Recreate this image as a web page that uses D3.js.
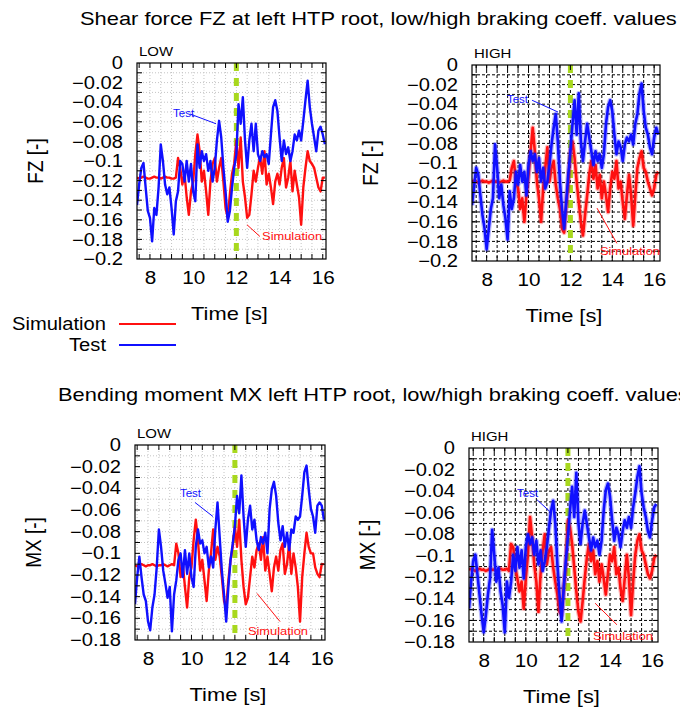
<!DOCTYPE html>
<html><head><meta charset="utf-8">
<script src="https://cdn.jsdelivr.net/npm/d3@7"></script>
<style>
body{margin:0;background:#fff}
svg{display:block}
text{font-family:"Liberation Sans",Arial,sans-serif;fill:#000}
</style>
</head><body>
<svg id="chart" width="680" height="714"></svg>
<script>
// Sampling instants (s)
const timeLow = [7.4,7.5,7.6,7.7,7.8,7.9,8.0,8.1,8.2,8.3,8.4,8.5,8.6,8.7,8.8,8.9,9.0,9.1,9.2,9.3,9.4,9.5,9.6,9.7,9.8,9.9,10.0,10.1,10.2,10.3,10.4,10.5,10.6,10.7,10.8,10.9,11.0,11.1,11.2,11.3,11.4,11.5,11.6,11.7,11.8,11.9,12.0,12.1,12.2,12.3,12.4,12.5,12.6,12.7,12.8,12.9,13.0,13.1,13.2,13.3,13.4,13.5,13.6,13.7,13.8,13.9,14.0,14.1,14.2,14.3,14.4,14.5,14.6,14.7,14.8,14.9,15.0,15.1,15.2,15.3,15.4,15.5,15.6,15.7,15.8,15.9,16.0,16.1];
const timeHigh = [7.3,7.4,7.5,7.6,7.7,7.8,7.9,8.0,8.1,8.2,8.3,8.4,8.5,8.6,8.7,8.8,8.9,9.0,9.1,9.2,9.3,9.4,9.5,9.6,9.7,9.8,9.9,10.0,10.1,10.2,10.3,10.4,10.5,10.6,10.7,10.8,10.9,11.0,11.1,11.2,11.3,11.4,11.5,11.6,11.7,11.8,11.9,12.0,12.1,12.2,12.3,12.4,12.5,12.6,12.7,12.8,12.9,13.0,13.1,13.2,13.3,13.4,13.5,13.6,13.7,13.8,13.9,14.0,14.1,14.2,14.3,14.4,14.5,14.6,14.7,14.8,14.9,15.0,15.1,15.2,15.3,15.4,15.5,15.6,15.7,15.8,15.9,16.0,16.1,16.2];

// Shear force FZ, low braking coefficient
const fzLowTest = [-0.145,-0.124,-0.107,-0.102,-0.127,-0.151,-0.158,-0.182,-0.148,-0.155,
 -0.127,-0.083,-0.100,-0.124,-0.134,-0.127,-0.148,-0.175,-0.141,-0.131,
 -0.100,-0.103,-0.121,-0.100,-0.121,-0.103,-0.131,-0.141,-0.083,-0.107,
 -0.090,-0.100,-0.093,-0.110,-0.100,-0.121,-0.107,-0.079,-0.059,-0.076,
 -0.107,-0.131,-0.162,-0.151,-0.127,-0.107,-0.093,-0.042,-0.062,-0.035,
 -0.079,-0.107,-0.079,-0.062,-0.090,-0.062,-0.093,-0.100,-0.090,-0.096,
 -0.093,-0.103,-0.073,-0.045,-0.038,-0.049,-0.076,-0.100,-0.079,-0.093,
 -0.086,-0.100,-0.090,-0.073,-0.079,-0.069,-0.079,-0.059,-0.038,-0.018,
 -0.045,-0.062,-0.076,-0.090,-0.069,-0.065,-0.073,-0.083];
const fzLowSim = [-0.117,-0.118,-0.117,-0.116,-0.117,-0.118,-0.118,-0.117,-0.116,-0.117,
 -0.117,-0.118,-0.117,-0.116,-0.117,-0.117,-0.118,-0.118,-0.117,
 -0.097,-0.107,-0.124,-0.113,-0.137,-0.155,-0.131,-0.121,-0.093,-0.073,
 -0.090,-0.121,-0.110,-0.131,-0.155,-0.121,-0.103,-0.097,-0.121,-0.107,
 -0.097,-0.121,-0.148,-0.158,-0.134,-0.113,-0.103,-0.079,-0.107,-0.076,
 -0.121,-0.137,-0.158,-0.155,-0.134,-0.110,-0.121,-0.107,-0.096,-0.113,
 -0.090,-0.124,-0.113,-0.127,-0.144,-0.121,-0.113,-0.124,-0.107,-0.097,
 -0.127,-0.117,-0.100,-0.131,-0.110,-0.124,-0.137,-0.165,-0.127,-0.107,
 -0.090,-0.100,-0.103,-0.107,-0.117,-0.127,-0.131,-0.117,-0.117];

// Shear force FZ, high braking coefficient
const fzHighTest = [-0.143,-0.124,-0.105,-0.112,-0.133,-0.153,-0.167,-0.188,-0.167,-0.147,
 -0.136,-0.081,-0.105,-0.136,-0.122,-0.143,-0.157,-0.178,-0.129,-0.147,
 -0.136,-0.109,-0.122,-0.102,-0.119,-0.109,-0.133,-0.102,-0.088,-0.098,
 -0.091,-0.109,-0.095,-0.119,-0.105,-0.126,-0.119,-0.102,-0.081,-0.064,
 -0.050,-0.078,-0.119,-0.147,-0.167,-0.140,-0.112,-0.088,-0.060,-0.036,
 -0.071,-0.029,-0.078,-0.098,-0.078,-0.060,-0.074,-0.088,-0.102,-0.088,
 -0.098,-0.091,-0.105,-0.091,-0.060,-0.043,-0.036,-0.047,-0.071,-0.091,
 -0.078,-0.084,-0.098,-0.081,-0.074,-0.078,-0.071,-0.081,-0.060,-0.050,
 -0.029,-0.019,-0.047,-0.064,-0.071,-0.084,-0.091,-0.074,-0.064,-0.071];
const fzHighSim = [-0.119,-0.118,-0.119,-0.120,-0.119,-0.118,-0.119,-0.119,-0.120,-0.119,
 -0.118,-0.119,-0.119,-0.120,-0.119,-0.118,-0.119,-0.119,-0.118,
 -0.105,-0.098,-0.119,-0.126,-0.147,-0.136,-0.160,-0.133,-0.112,-0.088,
 -0.064,-0.088,-0.119,-0.136,-0.160,-0.126,-0.105,-0.084,-0.119,-0.105,
 -0.098,-0.122,-0.136,-0.147,-0.167,-0.171,-0.143,-0.119,-0.088,-0.078,
 -0.095,-0.119,-0.140,-0.160,-0.174,-0.153,-0.133,-0.112,-0.098,-0.116,
 -0.102,-0.126,-0.112,-0.136,-0.119,-0.133,-0.150,-0.126,-0.109,-0.116,
 -0.098,-0.126,-0.119,-0.140,-0.157,-0.133,-0.112,-0.133,-0.164,-0.133,
 -0.105,-0.095,-0.088,-0.105,-0.109,-0.119,-0.126,-0.133,-0.126,-0.112,
 -0.109];

// Bending moment MX, low braking coefficient
const mxLowTest = [-0.147,-0.122,-0.103,-0.122,-0.138,-0.144,-0.163,-0.171,-0.150,-0.138,
 -0.113,-0.078,-0.094,-0.116,-0.128,-0.141,-0.131,-0.172,-0.138,-0.125,
 -0.106,-0.100,-0.122,-0.097,-0.119,-0.100,-0.122,-0.131,-0.094,-0.078,
 -0.091,-0.088,-0.100,-0.094,-0.113,-0.103,-0.113,-0.078,-0.053,-0.085,
 -0.116,-0.138,-0.163,-0.131,-0.106,-0.091,-0.075,-0.047,-0.063,-0.028,
 -0.066,-0.094,-0.069,-0.056,-0.078,-0.069,-0.088,-0.097,-0.085,-0.091,
 -0.081,-0.100,-0.059,-0.041,-0.034,-0.047,-0.072,-0.088,-0.075,-0.094,
 -0.081,-0.097,-0.078,-0.081,-0.066,-0.069,-0.066,-0.047,-0.025,-0.019,
 -0.041,-0.059,-0.066,-0.081,-0.056,-0.053,-0.056,-0.069];
const mxLowSim = [-0.111,-0.112,-0.111,-0.110,-0.111,-0.112,-0.111,-0.111,-0.110,-0.111,
 -0.112,-0.111,-0.111,-0.110,-0.111,-0.112,-0.111,-0.110,-0.111,
 -0.091,-0.100,-0.122,-0.110,-0.131,-0.150,-0.122,-0.113,-0.088,-0.069,
 -0.088,-0.116,-0.106,-0.125,-0.144,-0.116,-0.100,-0.078,-0.106,-0.094,
 -0.103,-0.122,-0.144,-0.150,-0.125,-0.106,-0.094,-0.075,-0.094,-0.069,
 -0.106,-0.131,-0.147,-0.141,-0.122,-0.103,-0.113,-0.097,-0.091,-0.106,
 -0.085,-0.116,-0.103,-0.119,-0.135,-0.113,-0.103,-0.116,-0.097,-0.091,
 -0.119,-0.110,-0.091,-0.119,-0.100,-0.113,-0.131,-0.163,-0.122,-0.100,
 -0.081,-0.094,-0.100,-0.100,-0.113,-0.119,-0.122,-0.110,-0.110];

// Bending moment MX, high braking coefficient
const mxHighTest = [-0.149,-0.124,-0.105,-0.099,-0.117,-0.136,-0.155,-0.171,-0.155,-0.136,
 -0.121,-0.076,-0.099,-0.124,-0.111,-0.133,-0.146,-0.171,-0.124,-0.139,
 -0.124,-0.099,-0.114,-0.092,-0.111,-0.095,-0.121,-0.092,-0.080,-0.089,
 -0.083,-0.099,-0.086,-0.108,-0.095,-0.114,-0.105,-0.092,-0.074,-0.058,
 -0.049,-0.070,-0.108,-0.136,-0.161,-0.130,-0.105,-0.083,-0.058,-0.036,
 -0.064,-0.023,-0.070,-0.089,-0.070,-0.058,-0.070,-0.083,-0.095,-0.083,
 -0.092,-0.086,-0.099,-0.086,-0.058,-0.039,-0.033,-0.045,-0.067,-0.086,
 -0.074,-0.080,-0.092,-0.077,-0.067,-0.074,-0.064,-0.074,-0.055,-0.042,
 -0.027,-0.017,-0.042,-0.055,-0.064,-0.077,-0.083,-0.067,-0.055,-0.052];
const mxHighSim = [-0.113,-0.112,-0.113,-0.114,-0.113,-0.112,-0.113,-0.113,-0.114,-0.113,
 -0.112,-0.113,-0.113,-0.114,-0.113,-0.112,-0.113,-0.113,-0.112,
 -0.114,-0.089,-0.092,-0.111,-0.121,-0.133,-0.124,-0.149,-0.121,-0.099,
 -0.064,-0.083,-0.108,-0.124,-0.152,-0.117,-0.095,-0.080,-0.108,-0.095,
 -0.092,-0.111,-0.124,-0.136,-0.152,-0.155,-0.130,-0.108,-0.067,-0.074,
 -0.089,-0.111,-0.133,-0.152,-0.161,-0.142,-0.121,-0.102,-0.089,-0.105,
 -0.095,-0.117,-0.105,-0.124,-0.108,-0.121,-0.136,-0.117,-0.099,-0.105,
 -0.092,-0.117,-0.111,-0.130,-0.142,-0.121,-0.099,-0.121,-0.155,-0.124,
 -0.099,-0.086,-0.080,-0.095,-0.099,-0.108,-0.117,-0.121,-0.114,-0.102,
 -0.099];

const xTickValues = [8, 10, 12, 14, 16];
const brakeTime = 12;
const seriesNames = ["Simulation", "Test"];
const seriesColors = {Simulation: "#ff1010", Test: "#1010ff"};
const chartTitles = [
  "Shear force FZ at left HTP root, low/high braking coeff. values",
  "Bending moment MX left HTP root, low/high braking coeff. values"
];

const panels = [
  {tag: "LOW", mode: "low", box: [137, 63, 326, 259], xDom: [7.4, 16.15], yDom: [-0.2, 0], yTitle: "FZ [-]",
   time: timeLow, test: fzLowTest, sim: fzLowSim,
   testNote: {text: [9.07, -0.055], from: [9.85, -0.052], to: [11.06, -0.062]},
   simNote: {text: [13.19, -0.181], from: [13.09, -0.177], to: [12.49, -0.165]}},
  {tag: "HIGH", mode: "high", box: [472, 65, 660, 261], xDom: [7.3, 16.28], yDom: [-0.2, 0], yTitle: "FZ [-]",
   time: timeHigh, test: fzHighTest, sim: fzHighSim,
   testNote: {text: [8.97, -0.039], from: [10.17, -0.036], to: [11.41, -0.048]},
   simNote: {text: [13.41, -0.194], from: [14.22, -0.182], to: [13.27, -0.146]}},
  {tag: "LOW", mode: "low", box: [135, 445, 325, 640], xDom: [7.4, 16.15], yDom: [-0.18, 0], yTitle: "MX [-]",
   time: timeLow, test: mxLowTest, sim: mxLowSim,
   testNote: {text: [9.47, -0.048], from: [10.16, -0.053], to: [10.99, -0.066]},
   simNote: {text: [12.6, -0.175], from: [14.08, -0.163], to: [13.02, -0.137]}},
  {tag: "HIGH", mode: "high", box: [469, 448, 658, 642], xDom: [7.3, 16.28], yDom: [-0.18, 0], yTitle: "MX [-]",
   time: timeHigh, test: mxHighTest, sim: mxHighSim,
   testNote: {text: [9.58, -0.045], from: [10.53, -0.048], to: [11.2, -0.060]},
   simNote: {text: [13.19, -0.178], from: [14.33, -0.164], to: [13.29, -0.144]}}
];

// Text in this figure is set slightly wide
const WIDE = 1.15;
function widen(sel, f = WIDE) {
  sel.each(function () {
    const w = this.getComputedTextLength();
    d3.select(this).attr("textLength", w * f).attr("lengthAdjust", "spacingAndGlyphs");
  });
  return sel;
}

const svg = d3.select("#chart");

// Titles
widen(svg.append("text").attr("x", 80).attr("y", 25).attr("font-size", 19).text(chartTitles[0]));
widen(svg.append("text").attr("x", 58).attr("y", 401).attr("font-size", 19).text(chartTitles[1]));

panels.forEach((p, i) => {
  const [x0, y0, x1, y1] = p.box;
  const x = d3.scaleLinear().domain(p.xDom).range([x0, x1]);
  const y = d3.scaleLinear().domain(p.yDom).range([y1, y0]);
  const g = svg.append("g");
  const id = "clip" + i;
  svg.append("clipPath").attr("id", id).append("rect")
    .attr("x", x0).attr("y", y0).attr("width", x1 - x0).attr("height", y1 - y0);

  const minorX = d3.range(Math.ceil(p.xDom[0] * 2) / 2, p.xDom[1] + 1e-9, 0.5);
  const nY = Math.round(-p.yDom[0] / 0.01);
  const minorY = d3.range(1, nY).map(k => -k * 0.01);

  // grid
  const gridColor = p.mode === "high" ? "#000" : "#c4c4c4";
  const gridDash = p.mode === "high" ? "3,2" : "1,2";
  g.selectAll(".gx").data(minorX).join("line")
    .attr("x1", d => x(d)).attr("x2", d => x(d)).attr("y1", y0).attr("y2", y1)
    .attr("stroke", gridColor).attr("stroke-width", 1).attr("stroke-dasharray", gridDash);
  g.selectAll(".gy").data(minorY).join("line")
    .attr("x1", x0).attr("x2", x1).attr("y1", d => y(d)).attr("y2", d => y(d))
    .attr("stroke", gridColor).attr("stroke-width", 1).attr("stroke-dasharray", gridDash);

  // braking instant marker
  g.append("line").attr("x1", x(brakeTime)).attr("x2", x(brakeTime)).attr("y1", y0).attr("y2", y1)
    .attr("stroke", "#a8d81e").attr("stroke-width", 5).attr("stroke-dasharray", "8,7");

  // series
  const line = d3.line().x((d, k) => x(p.time[k])).y(d => y(d));
  const plot = g.append("g").attr("clip-path", `url(#${id})`);
  const draw = (vals, color) => {
    if (p.mode === "high") {
      plot.append("path").datum(vals).attr("d", line).attr("fill", "none")
        .attr("stroke", color).attr("stroke-width", 5).attr("stroke-opacity", 0.3).attr("stroke-linejoin", "round");
      plot.append("path").datum(vals).attr("d", line).attr("fill", "none")
        .attr("stroke", color).attr("stroke-width", 2.6).attr("stroke-linejoin", "round");
    } else {
      plot.append("path").datum(vals).attr("d", line).attr("fill", "none")
        .attr("stroke", color).attr("stroke-width", 2.4).attr("stroke-linejoin", "round");
    }
  };
  draw(p.sim, seriesColors.Simulation);
  draw(p.test, seriesColors.Test);

  // tick marks inside the frame
  const tl = 5;
  g.selectAll(".tb").data(minorX).join("line")
    .attr("x1", d => x(d)).attr("x2", d => x(d)).attr("y1", y1).attr("y2", y1 - tl)
    .attr("stroke", "#000");
  g.selectAll(".tt").data(minorX).join("line")
    .attr("x1", d => x(d)).attr("x2", d => x(d)).attr("y1", y0).attr("y2", y0 + tl)
    .attr("stroke", "#000");
  g.selectAll(".tl").data(minorY).join("line")
    .attr("x1", x0).attr("x2", x0 + tl).attr("y1", d => y(d)).attr("y2", d => y(d))
    .attr("stroke", "#000");
  g.selectAll(".tr").data(minorY).join("line")
    .attr("x1", x1).attr("x2", x1 - tl).attr("y1", d => y(d)).attr("y2", d => y(d))
    .attr("stroke", "#000");

  // frame
  g.append("rect").attr("x", x0).attr("y", y0).attr("width", x1 - x0).attr("height", y1 - y0)
    .attr("fill", "none").attr("stroke", "#000").attr("stroke-width", 1.2);

  // axes labels
  const yTicks = d3.range(0, nY / 2 + 1).map(k => -k * 0.02);
  const yAxis = d3.axisLeft(y).tickValues(yTicks).tickSize(0).tickPadding(14)
    .tickFormat(d => d === 0 ? "0" : d3.format("")(+d.toFixed(2)));
  const ya = g.append("g").attr("transform", `translate(${x0},0)`).call(yAxis);
  ya.select(".domain").remove();
  widen(ya.selectAll("text").attr("font-size", 17.5).attr("font-family", "Liberation Sans, Arial, sans-serif").attr("fill", "#000"));

  const xAxis = d3.axisBottom(x).tickValues(xTickValues).tickSize(0).tickPadding(12).tickFormat(d3.format("d"));
  const xa = g.append("g").attr("transform", `translate(0,${y1})`).call(xAxis);
  xa.select(".domain").remove();
  widen(xa.selectAll("text").attr("font-size", 18).attr("font-family", "Liberation Sans, Arial, sans-serif").attr("fill", "#000"));

  widen(g.append("text").attr("x", (x0 + x1) / 2 - 2).attr("y", y1 + 61).attr("text-anchor", "middle")
    .attr("font-size", 19).text("Time [s]"));
  const ycx = x0 - 94, ycy = (y0 + y1) / 2;
  g.append("text").attr("transform", `translate(${ycx},${ycy}) rotate(-90) scale(1,${WIDE})`)
    .attr("text-anchor", "middle").attr("font-size", 19).text(p.yTitle);

  widen(g.append("text").attr("x", x0 + 2).attr("y", y0 - 7).attr("font-size", 13).text(p.tag));

  // in-plot annotations
  const note = (n, label, color, size) => {
    g.append("line").attr("x1", x(n.from[0])).attr("y1", y(n.from[1]))
      .attr("x2", x(n.to[0])).attr("y2", y(n.to[1])).attr("stroke", color).attr("stroke-width", 1);
    widen(g.append("text").attr("x", x(n.text[0])).attr("y", y(n.text[1])).attr("font-size", size)
      .style("fill", color).text(label));
  };
  note(p.testNote, "Test", seriesColors.Test, 10);
  note(p.simNote, "Simulation", seriesColors.Simulation, 11.2);
});

// legend
const legend = svg.append("g");
seriesNames.forEach((name, k) => {
  const ly = 324 + k * 21;
  widen(legend.append("text").attr("x", 106).attr("y", ly + 6).attr("text-anchor", "end")
    .attr("font-size", 17.5).text(name));
  legend.append("line").attr("x1", 119).attr("x2", 176).attr("y1", ly).attr("y2", ly)
    .attr("stroke", seriesColors[name]).attr("stroke-width", 2);
});
</script>
</body></html>
